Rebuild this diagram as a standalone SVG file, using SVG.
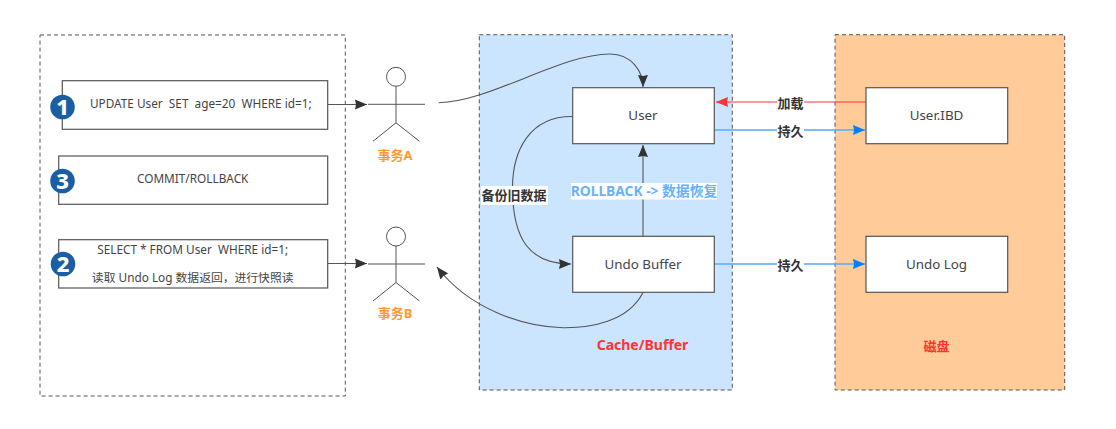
<svg xmlns="http://www.w3.org/2000/svg" width="1116" height="429" viewBox="0 0 1116 429">
<style>
text{font-family:"Noto Sans","Noto Sans CJK SC",sans-serif;text-anchor:middle;white-space:pre}
.t{font-size:13.400px;fill:#444}
.s{font-size:11.800px;fill:#444}
.b{font-size:13px;font-weight:700;fill:#333}
.o{font-size:13px;font-weight:700;fill:#FF9933}
.r{font-size:13px;font-weight:700;fill:#FF3333}
.zone{stroke:#555;stroke-dasharray:4 3;stroke-width:1}
.box{fill:#fff;stroke:#555;stroke-width:1.200}
.line{fill:none;stroke:#555;stroke-width:1.100}
.blue{fill:none;stroke:#55AAFF;stroke-width:1.300}
.red{fill:none;stroke:#FF3333;stroke-width:1}
.fig{fill:none;stroke:#555;stroke-width:1}
.num{fill:#fff;font-size:22px;font-weight:800}
.mask{fill:#fff}
</style>
<defs>
<marker id="ah" markerUnits="userSpaceOnUse" markerWidth="13" markerHeight="11" refX="12" refY="5.500" orient="auto"><path d="M0 .5L12 5.500L0 10.500L1 5.500Z" fill="#333"/></marker>
<marker id="ab" markerUnits="userSpaceOnUse" markerWidth="13" markerHeight="11" refX="12" refY="5.500" orient="auto"><path d="M0 .5L12 5.500L0 10.500L1 5.500Z" fill="#007FFF"/></marker>
<marker id="ar" markerUnits="userSpaceOnUse" markerWidth="13" markerHeight="11" refX="12" refY="5.500" orient="auto"><path d="M0 .5L12 5.500L0 10.500L1 5.500Z" fill="#FF3333"/></marker>
<g id="figure">
<circle cx="0" cy="-27.500" r="9.500" fill="#fff" stroke="#555"/>
<path class="fig" d="M-28 0H29M0 -18V18.500M-23 37L0 18.500L23.500 37"/>
</g>
</defs>

<rect id="client-zone" class="zone" x="40" y="35" width="305.300" height="361" fill="#fff"/>
<rect id="cache-zone" class="zone" x="479.300" y="34.700" width="253" height="355.300" fill="#CCE5FF"/>
<rect id="disk-zone" class="zone" x="835" y="34.700" width="229.700" height="355.300" fill="#FFCC99"/>

<g id="stmt-update">
<rect class="box" x="62.300" y="80.700" width="265.400" height="48.600"/>
<text class="s" x="200.800" y="108">UPDATE User  SET  age=20  WHERE id=1;</text>
</g>
<g id="stmt-commit">
<rect class="box" x="58.700" y="156" width="269" height="48.300"/>
<text class="s" x="192.700" y="183">COMMIT/ROLLBACK</text>
</g>
<g id="stmt-select">
<rect class="box" x="58.700" y="239.700" width="269" height="48.300"/>
<text class="s" x="192.700" y="254">SELECT * FROM User  WHERE id=1;</text>
<text class="s" x="192.700" y="282">读取 Undo Log 数据返回，进行快照读</text>
</g>
<g id="badge-1"><circle cx="62.500" cy="107" r="12.300" fill="#1A5FA3"/><text class="num" x="62.500" y="115">1</text></g>
<g id="badge-3"><circle cx="62.500" cy="181" r="12.300" fill="#1A5FA3"/><text class="num" x="62.500" y="189">3</text></g>
<g id="badge-2"><circle cx="63" cy="264" r="12.300" fill="#1A5FA3"/><text class="num" x="63" y="272">2</text></g>

<g id="actor-a">
<use href="#figure" x="396" y="104.300"/>
<text class="o" x="395" y="160">事务A</text>
</g>
<g id="actor-b">
<use href="#figure" x="396" y="264"/>
<text class="o" x="395" y="318">事务B</text>
</g>

<g id="connectors">
<path class="line" marker-end="url(#ah)" d="M327.700 104.500H367"/>
<path class="line" marker-end="url(#ah)" d="M327.700 263.500H367"/>
<path class="line" marker-end="url(#ah)" d="M438.700 102.700C490 102 560 54 610 54C632 54 643 72 643 87"/>
<path class="line" marker-end="url(#ah)" d="M572.700 116.500C530 116 512 150 512.500 190C513 240 530 264 571 264"/>
<path class="line" marker-end="url(#ah)" d="M643 292.500C628 322 590 328 563 327.700C525 327 470 310 437 267"/>
<path class="line" marker-end="url(#ah)" d="M643 236.300V145"/>
<path class="red" marker-end="url(#ar)" d="M866 102H716"/>
<path class="blue" marker-end="url(#ab)" d="M714.300 130H865"/>
<path class="blue" marker-end="url(#ab)" d="M714.300 264H865"/>
</g>

<g id="node-user">
<rect class="box" x="572.700" y="87.700" width="141.600" height="56"/>
<text class="t" x="643" y="120">User</text>
</g>
<g id="node-undo-buffer">
<rect class="box" x="572.700" y="236.300" width="141.600" height="56"/>
<text class="t" x="643" y="268.500">Undo Buffer</text>
</g>
<g id="node-ibd">
<rect class="box" x="866" y="87.700" width="141.700" height="56"/>
<text class="t" x="936.500" y="120">User.IBD</text>
</g>
<g id="node-undo-log">
<rect class="box" x="866" y="236.300" width="141.700" height="56"/>
<text class="t" x="936.500" y="268.500">Undo Log</text>
</g>

<g id="edge-labels">
<rect class="mask" x="481" y="186" width="67" height="19"/>
<text class="b" x="514" y="200">备份旧数据</text>
<rect class="mask" x="571" y="183" width="146" height="16.500"/>
<text class="b" x="644" y="196" style="fill:#66B2FF;font-size:13.800px">ROLLBACK -&gt; 数据恢复</text>
<rect class="mask" x="777" y="96" width="27" height="14"/>
<text class="b" x="790.500" y="108">加载</text>
<rect class="mask" x="777" y="124" width="27" height="14"/>
<text class="b" x="790.500" y="136">持久</text>
<rect class="mask" x="777" y="258" width="27" height="14"/>
<text class="b" x="790.500" y="270">持久</text>
</g>

<text class="r" x="642.500" y="350" style="font-size:14px">Cache/Buffer</text>
<text class="r" x="936.500" y="351">磁盘</text>
</svg>
